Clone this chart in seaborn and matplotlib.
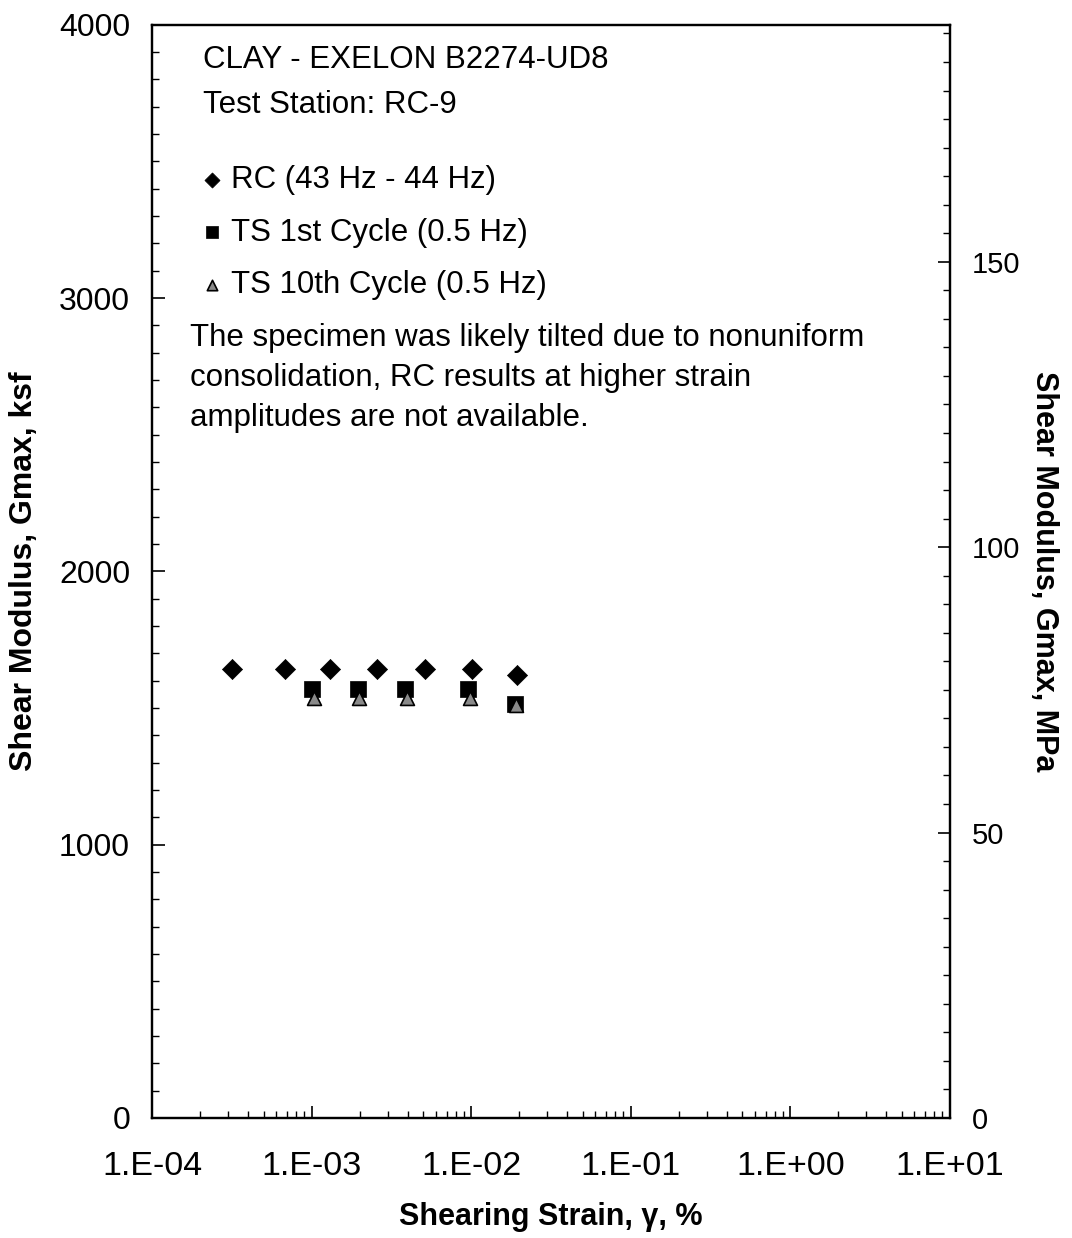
import numpy as np
import pandas as pd
import matplotlib
matplotlib.use("Agg")
import matplotlib.pyplot as plt
import seaborn as sns
from matplotlib.ticker import FixedLocator, NullFormatter, LogLocator

# Resonant column (RC) results
rc_strain = [3.16e-4, 6.8e-4, 1.30e-3, 2.55e-3, 5.1e-3, 1.01e-2, 1.94e-2]
rc_gmax = [1644, 1644, 1644, 1644, 1644, 1644, 1622]

# Torsional shear (TS), first cycle
ts1_strain = [1.0e-3, 1.94e-3, 3.87e-3, 9.6e-3, 1.88e-2]
ts1_gmax = [1571, 1571, 1571, 1571, 1516]

# Torsional shear (TS), tenth cycle
ts10_strain = [1.03e-3, 1.98e-3, 3.95e-3, 9.8e-3, 1.9e-2]
ts10_gmax = [1538, 1538, 1538, 1538, 1512]

left_ticks = [0, 1000, 2000, 3000, 4000]
right_ticks = [0, 50, 100, 150]
x_tick_labels = ["1.E-04", "1.E-03", "1.E-02", "1.E-01", "1.E+00", "1.E+01"]
KSF_TO_MPA = 0.04788

sns.set_theme(style="white")
plt.rcParams["font.family"] = ["Liberation Sans", "DejaVu Sans"]
plt.rcParams["text.color"] = "black"
plt.rcParams["axes.labelcolor"] = "black"

fig = plt.figure(figsize=(10.72, 12.38), dpi=100)
ax = fig.add_axes([0.142, 0.097, 0.744, 0.883])

rc_df = pd.DataFrame({"strain": rc_strain, "gmax": rc_gmax})
ts1_df = pd.DataFrame({"strain": ts1_strain, "gmax": ts1_gmax})
ts10_df = pd.DataFrame({"strain": ts10_strain, "gmax": ts10_gmax})

sns.scatterplot(data=rc_df, x="strain", y="gmax", marker="D", s=105,
                color="black", edgecolor="black", linewidth=0.5,
                label="RC (43 Hz - 44 Hz)", ax=ax, zorder=3)
sns.scatterplot(data=ts1_df, x="strain", y="gmax", marker="s", s=135,
                color="black", edgecolor="black", linewidth=0.5,
                label="TS 1st Cycle (0.5 Hz)", ax=ax, zorder=3)
sns.scatterplot(data=ts10_df, x="strain", y="gmax", marker="^", s=100,
                color="#8a8a8a", edgecolor="black", linewidth=1.2,
                label="TS 10th Cycle (0.5 Hz)", ax=ax, zorder=4)

ax.set_xscale("log")
ax.set_xlim(1e-4, 1e1)
ax.set_ylim(0, 4000)

ax.set_xticks([1e-4, 1e-3, 1e-2, 1e-1, 1e0, 1e1])
ax.set_xticklabels(x_tick_labels)
ax.xaxis.set_minor_locator(LogLocator(base=10, subs=np.arange(2, 10), numticks=20))
ax.xaxis.set_minor_formatter(NullFormatter())

ax.set_yticks(left_ticks)
ax.yaxis.set_minor_locator(FixedLocator(np.arange(0, 4001, 100)))

ax.tick_params(axis="both", which="major", direction="in", length=9, width=1.2,
               labelsize=23, colors="black", pad=16)
ax.tick_params(axis="both", which="minor", direction="in", length=5, width=1.0,
               colors="black")
ax.tick_params(axis="x", which="both", top=False, bottom=True)
ax.tick_params(axis="y", which="both", left=True, right=False)
ax.tick_params(axis="x", which="major", pad=24, labelsize=24.5)

for sp in ax.spines.values():
    sp.set_color("black")
    sp.set_linewidth(1.6)

ax.set_xlabel("Shearing Strain, γ, %", fontsize=22, fontweight="bold", labelpad=14)
ax.set_ylabel("Shear Modulus, Gmax, ksf", fontsize=23, fontweight="bold", labelpad=14)

# Secondary axis in MPa
ax2 = ax.twinx()
ax2.set_ylim(0, 4000 * KSF_TO_MPA)
ax2.set_yticks(right_ticks)
ax2.yaxis.set_minor_locator(FixedLocator(np.arange(0, 191, 5)))
ax2.tick_params(axis="y", which="major", direction="in", length=9, width=1.2,
                labelsize=21, colors="black", pad=16)
ax2.tick_params(axis="y", which="minor", direction="in", length=5, width=1.0,
                colors="black")
ax2.set_ylabel("Shear Modulus, Gmax, MPa", fontsize=22, fontweight="bold",
               rotation=270, labelpad=28)
ax2.grid(False)
for sp in ax2.spines.values():
    sp.set_color("black")
    sp.set_linewidth(1.6)

# Annotations
ax.text(0.064, 0.968, "CLAY - EXELON B2274-UD8", transform=ax.transAxes,
        fontsize=22.5, va="center", ha="left")
ax.text(0.064, 0.927, "Test Station: RC-9", transform=ax.transAxes,
        fontsize=22.5, va="center", ha="left")
ax.text(0.047, 0.677,
        "The specimen was likely tilted due to nonuniform\n"
        "consolidation, RC results at higher strain\n"
        "amplitudes are not available.",
        transform=ax.transAxes, fontsize=22.5, va="center", ha="left",
        linespacing=1.42)

leg = ax.legend(loc="upper left", bbox_to_anchor=(0.04, 0.886), frameon=False,
                fontsize=22.5, handletextpad=0.2, labelspacing=0.72,
                borderpad=0.0, handlelength=0.8, markerscale=0.75)
for t in leg.get_texts():
    t.set_color("black")

fig.savefig("out.png", dpi=100, facecolor="white")
